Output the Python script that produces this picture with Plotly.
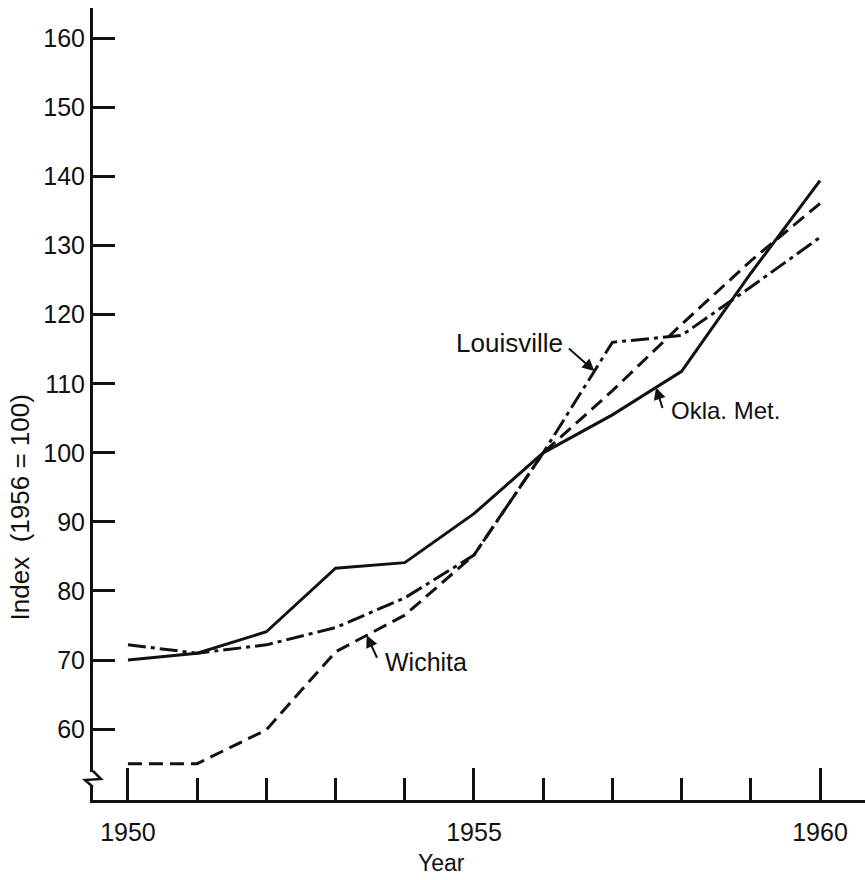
import numpy as np
import plotly.graph_objects as go

years = [1950, 1951, 1952, 1953, 1954, 1955, 1956, 1957, 1958, 1959, 1960]
okla_met = [70, 71, 74.1, 83.3, 84.1, 91.2, 100, 105.5, 111.8, 126, 139.4]
louisville = [72.2, 71, 72.2, 74.7, 79, 85.2, 100, 116, 117, 124, 131.2]
wichita = [55, 55, 59.9, 71.2, 76.5, 85.2, 100, 109, 118.6, 127.8, 136.1]

y_ticks = [60, 70, 80, 90, 100, 110, 120, 130, 140, 150, 160]
x_ticks = [1950, 1955, 1960]

FONT = "Liberation Sans"
BLACK = "#111111"

fig = go.Figure()
fig.add_trace(go.Scatter(x=years, y=okla_met, mode="lines", name="Okla. Met.",
                         line=dict(color=BLACK, width=3, dash="solid")))
fig.add_trace(go.Scatter(x=years, y=louisville, mode="lines", name="Louisville",
                         line=dict(color=BLACK, width=3, dash="18px,5px,4px,5px")))
fig.add_trace(go.Scatter(x=years, y=wichita, mode="lines", name="Wichita",
                         line=dict(color=BLACK, width=3, dash="14px,7px")))

def on_line(series, xv):
    return float(np.interp(xv, years, series))

annos = []
# Louisville label + arrow
lx = 1956.74
annos.append(dict(x=lx, y=on_line(louisville, lx), xref="x", yref="y", text="",
                  showarrow=True, ax=-27, ay=-24, arrowhead=2, arrowsize=1.2,
                  arrowwidth=2, arrowcolor=BLACK))
annos.append(dict(x=1956.31, y=115.9, xref="x", yref="y", text="Louisville",
                  showarrow=False, xanchor="right", yanchor="middle",
                  font=dict(family=FONT, size=26, color=BLACK)))
# Okla. Met. label + arrow
ox = 1957.63
annos.append(dict(x=ox, y=on_line(okla_met, ox), xref="x", yref="y", text="",
                  showarrow=True, ax=7, ay=22, arrowhead=2, arrowsize=1.2,
                  arrowwidth=2, arrowcolor=BLACK))
annos.append(dict(x=1957.82, y=106.2, xref="x", yref="y", text="Okla. Met.",
                  showarrow=False, xanchor="left", yanchor="middle",
                  font=dict(family=FONT, size=24, color=BLACK)))
# Wichita label + arrow
wx = 1953.45
annos.append(dict(x=wx, y=on_line(wichita, wx), xref="x", yref="y", text="",
                  showarrow=True, ax=11, ay=24, arrowhead=2, arrowsize=1.2,
                  arrowwidth=2, arrowcolor=BLACK))
annos.append(dict(x=1953.68, y=69.7, xref="x", yref="y", text="Wichita",
                  showarrow=False, xanchor="left", yanchor="middle",
                  font=dict(family=FONT, size=25, color=BLACK)))
# Axis titles
annos.append(dict(x=-0.094, y=0.37, xref="paper", yref="paper", text="Index  (1956 = 100)",
                  showarrow=False, textangle=-90, xanchor="center", yanchor="middle",
                  font=dict(family=FONT, size=26, color=BLACK)))
annos.append(dict(x=0.452, y=-0.079, xref="paper", yref="paper", text="Year",
                  showarrow=False, xanchor="center", yanchor="middle",
                  font=dict(family=FONT, size=23, color=BLACK)))

# Axis break symbol on y axis (paper coords)
H = 792.0
W = 772.0
def py(pix):
    return (800 - pix) / H
def px(pix):
    return (pix - 93) / W

shapes = [
    dict(type="rect", xref="paper", yref="paper", x0=px(89), x1=px(97), y0=py(786), y1=py(772),
         fillcolor="white", line=dict(width=0), layer="above"),
    dict(type="path", xref="paper", yref="paper",
         path=f"M {px(93)},{py(771)} L {px(101)},{py(779)} L {px(85)},{py(780)} L {px(93)},{py(787)}",
         line=dict(color=BLACK, width=2.5), layer="above"),
]

fig.update_layout(
    width=865, height=880,
    margin=dict(l=93, r=0, t=8, b=80),
    paper_bgcolor="white", plot_bgcolor="white",
    showlegend=False,
    annotations=annos,
    shapes=shapes,
    font=dict(family=FONT, size=25, color=BLACK),
    xaxis=dict(range=[1949.495, 1960.65], showgrid=False, zeroline=False,
               showline=True, linecolor=BLACK, linewidth=3,
               tickmode="array", tickvals=x_ticks, ticktext=[str(v) for v in x_ticks],
               ticks="inside", ticklen=32, tickwidth=2.5, tickcolor=BLACK,
               ticklabelstandoff=8,
               tickfont=dict(family=FONT, size=25, color=BLACK),
               minor=dict(tickmode="array", tickvals=years, ticks="inside", ticklen=22,
                          tickwidth=2.5, tickcolor=BLACK, showgrid=False)),
    yaxis=dict(range=[49.74, 164.4], showgrid=False, zeroline=False,
               showline=True, linecolor=BLACK, linewidth=3,
               tickmode="array", tickvals=y_ticks, ticktext=[str(v) for v in y_ticks],
               ticks="inside", ticklen=22, tickwidth=2.5, tickcolor=BLACK,
               tickfont=dict(family=FONT, size=25, color=BLACK)),
)

fig.write_html("out.html")
